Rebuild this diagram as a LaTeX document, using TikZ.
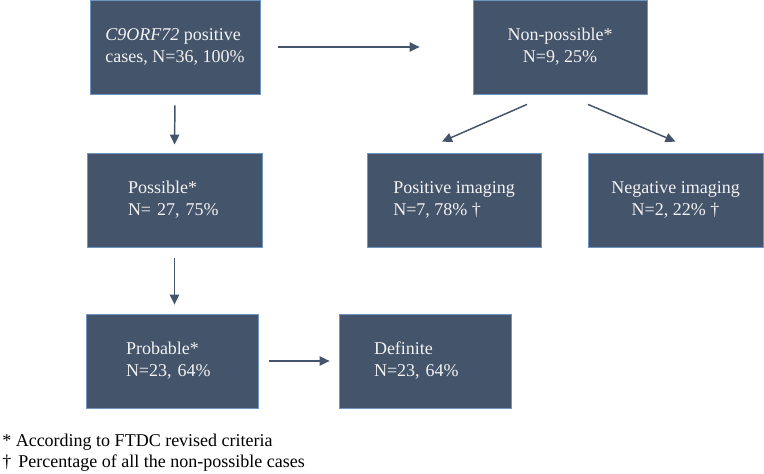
\documentclass[tikz,border=0pt]{standalone}
\usepackage{fontspec}
\setmainfont{Liberation Serif}
\usetikzlibrary{arrows.meta}
\definecolor{slate}{HTML}{44546A}
\definecolor{edge}{HTML}{7094C4}
\definecolor{paper}{HTML}{F2F2F2}

\begin{document}
\begin{tikzpicture}[x=0.75pt,y=-0.75pt,
    box/.style={fill=slate,draw=edge,line width=0.6pt,text=paper,inner sep=0pt,
      minimum height=70.5pt,align=left,font=\fontsize{13.5}{16.5}\selectfont},
    flow/.style={-{Triangle[length=7.5pt,width=7pt]},line width=1.1pt,slate},
    note/.style={anchor=base west,inner sep=0pt,font=\fontsize{13.5}{16.5}\selectfont}]
  \useasboundingbox (0,0) rectangle (764,474);
  % case boxes
  \node[box,minimum width=127.5pt] (cases) at (175,47)
    {\textit{C9ORF72} positive\\cases, N=36, 100\%};
  \node[box,minimum width=130.5pt,align=center] (nonposs) at (560,47)
    {Non-possible*\\N=9, 25\%};
  \node[box,minimum width=131.25pt,text width=69.75pt] (possible) at (174.5,200)
    {Possible*\\N= 27, 75\%};
  \node[box,minimum width=130.5pt] (posimg) at (454,200)
    {Positive imaging\\N=7, 78\% †};
  \node[box,minimum width=131.25pt,align=center] (negimg) at (675.5,200)
    {Negative imaging\\N=2, 22\% †};
  \node[box,minimum width=129pt,text width=69pt] (probable) at (172,361)
    {Probable*\\N=23, 64\%};
  \node[box,minimum width=129pt,text width=76.5pt] (definite) at (425,361)
    {Definite\\N=23, 64\%};
  % arrows
  \draw[flow,shorten <=13.5pt,shorten >=39.75pt] (cases.east) -- (nonposs.west);
  \draw[flow,shorten <=8.25pt,shorten >=6pt] (cases.south) -- (possible.north);
  \draw[flow,shorten <=8.25pt,shorten >=6.75pt]
    (possible.south) -- (possible.south |- probable.north);
  \draw[flow,shorten <=8.25pt,shorten >=6.75pt] (probable.east) -- (definite.west);
  \draw[flow] ([shift={(-33,10)}]nonposs.south) -- ([shift={(-12,-11)}]posimg.north);
  \draw[flow] ([shift={(28,10)}]nonposs.south) -- ([shift={(0,-11)}]negimg.north);
  % footnotes
  \node[note] (fn1) at (2,446) {* According to FTDC revised criteria};
  \node[note] (fn2) at (2,467) {†\hspace{0.4em}Percentage of all the non-possible cases};
\end{tikzpicture}
\end{document}
